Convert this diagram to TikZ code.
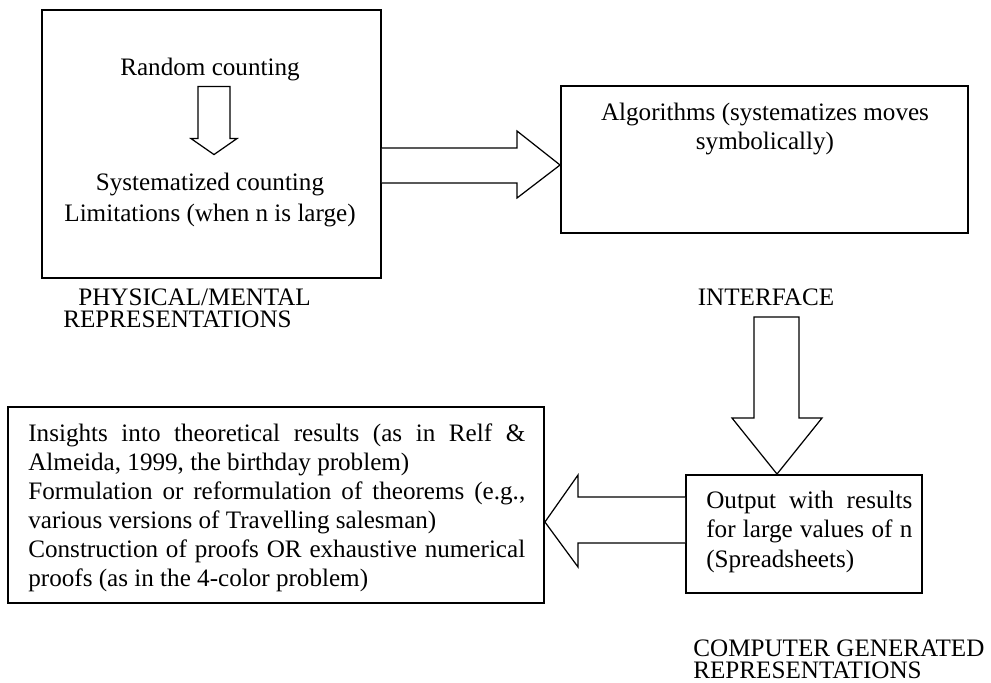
\documentclass[tikz,border=0pt]{standalone}
\usepackage{fontspec}
\setmainfont{Liberation Serif}
\usetikzlibrary{positioning}

\begin{document}
\begin{tikzpicture}[x=0.02cm, y=-0.02cm,
    box/.style={draw, line width=1.1pt, inner sep=0pt},
    txt/.style={inner sep=0pt, font=\fontsize{14.3}{16.6}\selectfont},
    lbl/.style={inner sep=0pt, align=left, font=\fontsize{14.3}{12.2}\selectfont},
    blk/.style={draw, line width=0.7pt, fill=white, line join=miter}]
    \useasboundingbox (0,0) rectangle (991,683);

    % boxes
    \node[box, minimum width=6.78cm, minimum height=5.36cm] (phys) at (211.5,144) {};
    \node[box, minimum width=8.14cm, minimum height=2.94cm] (alg) at (764.5,159.5) {};
    \node[box, minimum width=4.72cm, minimum height=2.36cm] (out) at (804,534) {};
    \node[box, minimum width=10.72cm, minimum height=3.92cm] (ins) at (276,505) {};

    % texts in the boxes
    \node[txt, anchor=north] (rc) at (210,58) {Random counting};
    \node[txt, anchor=north, align=center, font=\fontsize{14.3}{17.2}\selectfont] (sc) at (210,173)
        {Systematized counting\\Limitations (when n is large)};
    \node[txt, anchor=north, align=center] (algt) at (765,103) {Algorithms (systematizes moves\\symbolically)};
    \node[txt, anchor=north west, text width=4.12cm, align=justify] (outt) at (706,491)
        {Output with results\linebreak for large values of n\linebreak (Spreadsheets)};
    \node[txt, anchor=north west, text width=9.94cm, align=justify] (inst) at (28,423)
        {Insights into theoretical results (as in Relf \&\linebreak Almeida, 1999, the birthday problem)\par
         Formulation or reformulation of theorems (e.g.,\linebreak various versions of Travelling salesman)\par
         Construction of proofs OR exhaustive numerical\linebreak proofs (as in the 4-color problem)};

    % labels
    \node[lbl, anchor=north west] (physl) at (63,289) {\hspace*{0.3cm}PHYSICAL/MENTAL\\REPRESENTATIONS};
    \node[lbl] (ifl) at (766,297) {INTERFACE};
    \node[lbl, anchor=north west] (compl) at (693,640) {COMPUTER GENERATED\\REPRESENTATIONS};

    % block arrows
    \draw[blk] (rc.south) ++(-12,5) -- ++(0,52) -- ++(-7,0) -- ++(23,16) -- ++(23,-16) -- ++(-7,0) -- ++(0,-52) -- cycle;
    \draw[blk] (phys.east |- 0,148) -- (517,148) -- (517,131) -- (alg.west |- 0,165)
        -- (517,198) -- (517,183) -- (phys.east |- 0,183);
    \draw[blk] (754,317) -- (754,418) -- (732,418) -- (out.north -| 777,452) -- (822,418)
        -- (799,418) -- (799,317) -- cycle;
    \draw[blk] (out.west |- 0,497) -- (578,497) -- (578,475) -- (ins.east |- 0,522)
        -- (578,567) -- (578,543) -- (out.west |- 0,543);
\end{tikzpicture}
\end{document}
